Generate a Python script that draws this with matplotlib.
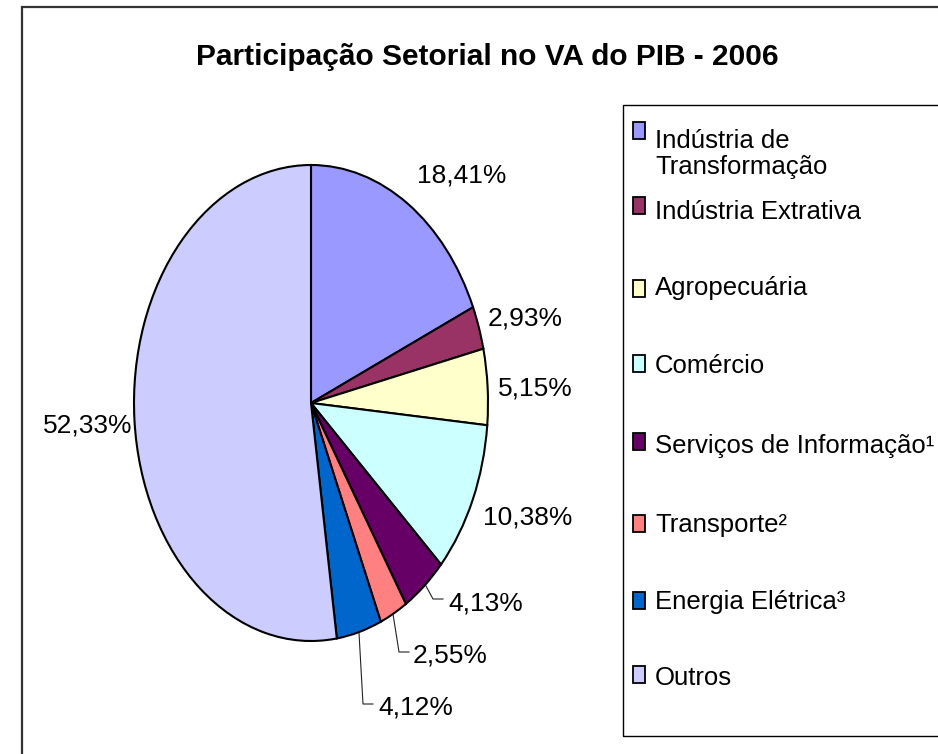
import matplotlib
matplotlib.use("Agg")
import matplotlib.pyplot as plt
from matplotlib.patches import Rectangle
from matplotlib.lines import Line2D

title = "Participação Setorial no VA do PIB - 2006"
categories = ["Indústria de\nTransformação", "Indústria Extrativa", "Agropecuária",
              "Comércio", "Serviços de Informação¹", "Transporte²",
              "Energia Elétrica³", "Outros"]
values = [18.41, 2.93, 5.15, 10.38, 4.13, 2.55, 4.12, 52.33]
colors = ["#9999FF", "#993366", "#FFFFCC", "#CCFFFF", "#660066", "#FF8080",
          "#0066CC", "#CCCCFF"]

W, H = 938, 754
fig = plt.figure(figsize=(W / 100, H / 100), dpi=100)
fig.patch.set_facecolor("white")

def fx(x):
    return x / W

def fy(y):
    return 1 - y / H

regular = ["Liberation Sans", "DejaVu Sans"]

# outer chart border
fig.add_artist(Rectangle((fx(22), fy(1000)), (1000 - 22) / W, (1000 - 7) / H,
                         transform=fig.transFigure, fill=False,
                         edgecolor="#333333", linewidth=1.6, clip_on=False))

# title
fig.text(fx(487), fy(65), title, ha="center", va="baseline",
         fontsize=21.5, fontweight="bold", family=regular)

# pie
ax = fig.add_axes([fx(134), fy(641), 354 / W, 476 / H])
ax.pie(values, colors=colors, startangle=90, counterclock=False,
       wedgeprops=dict(edgecolor="black", linewidth=1.5))
ax.set_aspect("auto")
ax.set_xlim(-1, 1)
ax.set_ylim(-1, 1)
ax.axis("off")

# percentage labels
lab_pos = [(417, 183, "left"), (488, 326, "left"), (498, 396, "left"),
           (483, 524, "left"), (448, 611, "left"), (413, 663, "left"),
           (378, 715, "left"), (132, 432, "right")]
for v, (x, y, ha) in zip(values, lab_pos):
    s = f"{v:.2f}".replace(".", ",") + "%"
    fig.text(fx(x), fy(y), s, ha=ha, va="baseline", fontsize=19, family=regular)

# leader lines
leaders = [[(426, 586), (433, 599), (443, 599)],
           [(393, 614), (399, 652), (409, 652)],
           [(359, 633), (363, 704), (373, 704)]]
for pts in leaders:
    fig.add_artist(Line2D([fx(p[0]) for p in pts], [fy(p[1]) for p in pts],
                          transform=fig.transFigure, color="#222222", lw=0.8))

# legend box
fig.add_artist(Rectangle((fx(623), fy(736)), (1000 - 623) / W, (736 - 105) / H,
                         transform=fig.transFigure, fill=False,
                         edgecolor="black", linewidth=1.0, clip_on=False))
marker_tops = [122, 197, 280, 355, 433, 515, 592, 666]
text_base = [148, 219, 295, 373, 453, 532, 609, 685]
for cat, col, mt, tb in zip(categories, colors, marker_tops, text_base):
    fig.add_artist(Rectangle((fx(633), fy(mt + 17)), 12 / W, 17 / H,
                             transform=fig.transFigure, facecolor=col,
                             edgecolor="black", linewidth=1.3))
    lines = cat.split("\n")
    for i, ln in enumerate(lines):
        fig.text(fx(655), fy(tb + 26 * i), ln, ha="left", va="baseline",
                 fontsize=18.5, family=regular)

fig.savefig("out.png", dpi=100, facecolor="white")
